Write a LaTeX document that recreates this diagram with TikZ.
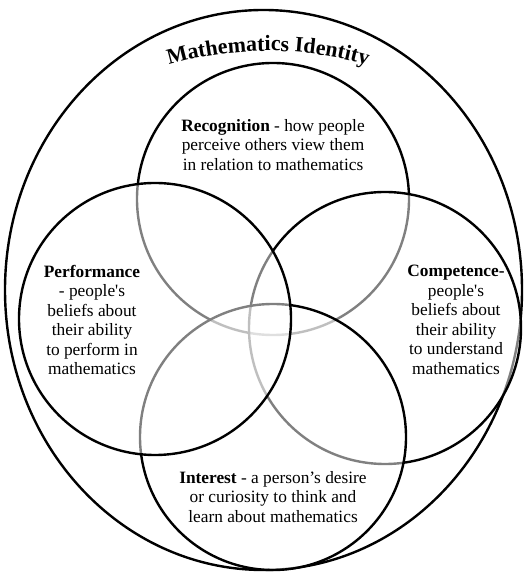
\documentclass[tikz,border=0pt]{standalone}
\usepackage{fontspec}
\setmainfont{Liberation Serif}
\usetikzlibrary{shapes.geometric,decorations.text}
\begin{document}
\begin{tikzpicture}[x=0.75pt,y=0.75pt]
        \useasboundingbox (0,0) rectangle (524,573);
        \begin{scope}
            \tikzstyle{every node}=[draw=black, line width=1.8pt, inner sep=0pt, fill=white, fill opacity=0.5, draw opacity=1]
            \node[ellipse, minimum width=387.75pt, minimum height=420pt, fill=none] (ident) at (263.5,283) {};
            \node[circle, minimum size=204pt] (recog) at (273,374) {};
            \node[circle, minimum size=204pt] (comp) at (385,245) {};
            \node[circle, minimum size=199.5pt] (inter) at (273,136) {};
            \node[circle, minimum size=204pt] (perf) at (155,254) {};
        \end{scope}
        \begin{scope}
            \tikzstyle{every node}=[align=center, text=black, font=\fontsize{13}{14.6}\selectfont]
            \node (recogtxt) at (273,428) {\textbf{Recognition} - how people\\perceive others view them\\in relation to mathematics};
            \node (perftxt) at (92,253) {\textbf{Performance}\\- people\textquotesingle s\\beliefs about\\their ability\\to perform in\\mathematics};
            \node (comptxt) at (456,253) {\textbf{Competence-}\\people\textquotesingle s\\beliefs about\\their ability\\to understand\\mathematics};
            \node (intertxt) at (273,76) {\textbf{Interest} - a person’s desire\\or curiosity to think and\\learn about mathematics};
        \end{scope}
        \path[decorate, decoration={text along path, text align=center,
            text={|\fontsize{16.4}{18}\selectfont\bfseries|Mathematics Identity}}]
            (268,164) ++(112:358) arc (112:68:358);
    \end{tikzpicture}
\end{document}
